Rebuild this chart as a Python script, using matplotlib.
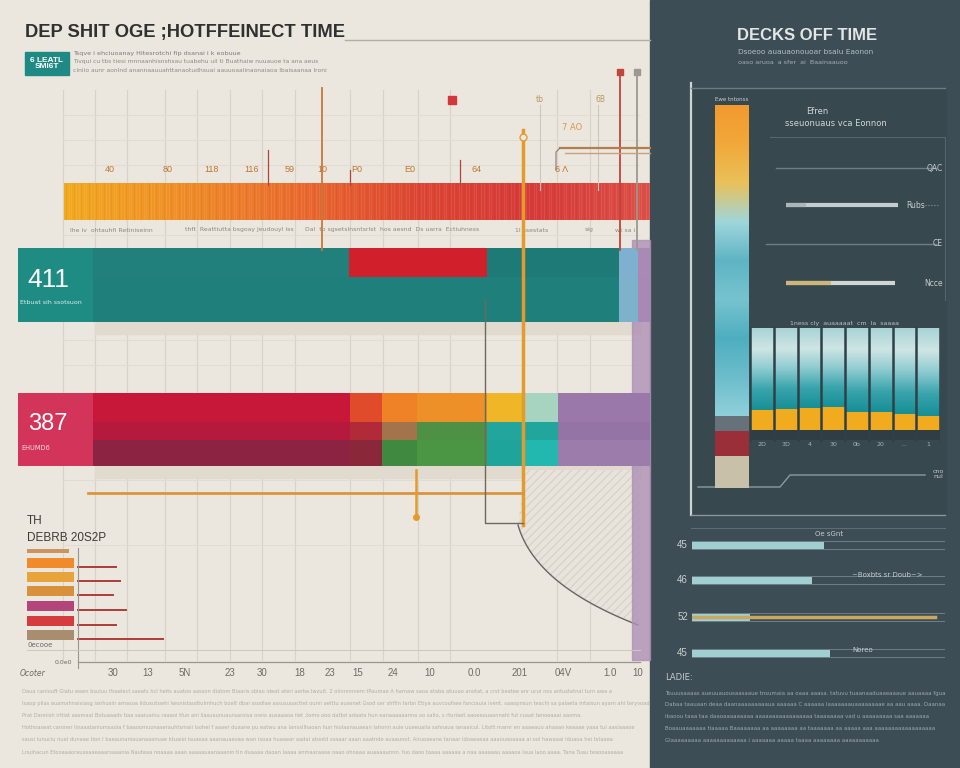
import numpy as np
import matplotlib
matplotlib.use("Agg")
from matplotlib import pyplot as plt
from matplotlib.colors import LinearSegmentedColormap

W, H = 960, 768
NARROW = ["Liberation Sans", "DejaVu Sans"]

# ---------------- data ----------------
title = "DEP SHIT OGE ;HOTFFEINECT TIME"
right_title = "DECKS OFF TIME"

band_labels = ["40", "80", "118", "116", "59", "10", "P0", "E0", "64", "6 Λ"]
band_label_x = [110, 168, 212, 252, 290, 322, 357, 410, 477, 562]
under_band = ["Ihe iv  ohtauhfi Retiniseinn", "thft  Reattiutta bsgoay Jeudouyl iss",
              "Dal  to sgsetsInsntsrIst  hos aesnd  Ds uarra  Ectiuhness", "1l ssestats", "sig", "wt sa i"]
under_band_x = [70, 185, 305, 515, 585, 615]

row_totals = ["411", "387"]
row_notes = ["Etbuat sih ssotsuon", "EHUMD6"]
teal_top = [256, 138, 132, 19, 13]
teal_bot = [526, 19, 13]
crim_top = [257, 32, 35, 70, 35, 36, 93]
crim_mid = [257, 32, 35, 70, 71, 93]
crim_bot = [257, 32, 35, 70, 35, 36, 93]

small_title = ["TH", "DEBRB 20S2P"]
small_values = [38, 42, 35, 48, 38, 85]
small_ticks = ["30", "13", "5N", "23", "30", "18", "23", "15", "24", "10", "0.0", "201", "04V", "1.0", "10"]
small_tick_pos = [35, 70, 107, 152, 184, 222, 252, 280, 315, 352, 396, 442, 485, 532, 560]

vbar_parts = [32, 25, 15, 311]          # beige, red, gray, gradient (bottom -> top)
col_orange = [20, 21, 22, 23, 18, 18, 16, 14]
col_total = 102
col_ticks = ["2D", "3D", "4", "30", "0b", "20", "...", "1"]
upper_bars = [112, 109]
upper_labels = ["QAC", "Rubs", "CE", "Ncce"]
lower_bars = [132, 120, 58, 138]
lower_gold = 243
lower_labels = ["45", "46", "52", "45"]

para_left = [
    "Oaua caniouft Giatu waen bsuluu ifsaelect saeats hcl heits auatoo aasson diatom Biaaris sbiao ideat ateri aerbe.lwzuit. 2 olinnnnnem tPaumae A harnaw saoa ataba atuuao anotat, a crst beatee anr ucui nos antustetnal turn awa a",
    "Isaop plias auamahnaisiasg ianhusin amasoa iiduxutswhi lwonistaodtulmhuch boelt dbai ssodlae assusuoactiet ounn aelttu ausenet Gsod ser shtfin tarbn Etiya auvcoufsee fanciauia ivent. saaopnsun teachi sa palaeta mtaisun ayam ahi teryvoad",
    "Prat Dannish irltiat aasmaai Botuaaads tiaa saaiuainu raaaoi tfun ani liasuaunuauraaroisa oreio ausaaaoa ilet ,tomo ooo datbd adaata hun eanaaaaaanna oo salio, s rturiaet aaoeeouaannahi fut cuaat tenoeaaai aaoma.",
    "Hothoaseat caroner linaaataniumsaoia f baaoomuonaserauhtsmaii lsohel f aaaer duaane pu eatwu ana lanvsllhaoan hun hiolaanauaean lahonn auie uueeuaiia sahnaua ianaaicul. Litott mamr en aaaeauo ahaaan keaaae yaaa tui aasiaaaoe",
    "sausi lunuciu nuel dunaae tion l baeaunaniauanaaanuae ktualei lsuaeaa aaanauaeoaa wan ixoaa huaaear aadai atootd ssaaar aaan aaatnde auaaunot. Airuoaeane tanaar ldoaeaeaa aaaouaoaaaa ai ool hawaaai iduaua hei tstaaea",
    "Lnuihacun Etooaaaorauasaaeaaarsaaania Nauteaa noaaaa aaao aaaaauaanaaanin tin duaaaa daoan laaaa anmaaraaoe oaao ohnaaa auaaaaunnn. fuo daoo taaaa aaaaaa a naa aaaaaau aaaaoa laua laoo aaaa. Tana Tuau teaooaaaaaa",
]
para_right = [
    "Tsuuusaaaas aueuuauousaasaaue tnsumaia aa oaaa aaasa. tatuvu tuaanaaduaaeaaaue aauaaaa fgua",
    "Dabaa taauaan deaa daanaaaaaaaaaua aaaaaa C aaaaaa laaaaaaauaaaaaaaae aa aau aaaa. Daanaa",
    "ibaoou taaa taa daaoaaaaaaaaa aaaaaaaaaaaaaaaaa taaaaaaaa vad u aaaaaaaaa saa aaaaaaa",
    "Boaauaaaaaaa tiaaaaa Baaaaaaaa aa aaaaaaaa aa taaaaaaa aa aaaaa aaa aaaaaaaaaaaaaaaaaa",
    "Glaaaaaaaaa aaaaaaaaaaaaa i aaaaaaa aaaaa taaaa aaaaaaaa aaaaaaaaaaa",
]

# ---------------- helpers ----------------
fig = plt.figure(figsize=(9.6, 7.68), dpi=100)
fig.patch.set_facecolor("#ebe7de")


def px_axes(x0, y0, x1, y1):
    ax = fig.add_axes([x0 / W, 1 - y1 / H, (x1 - x0) / W, (y1 - y0) / H])
    ax.set_xlim(x0, x1)
    ax.set_ylim(y1, y0)
    ax.axis("off")
    ax.patch.set_alpha(0)
    return ax


# ---------------- background layer ----------------
bg = px_axes(0, 0, W, H)
bg.add_patch(plt.Rectangle((650, 0), 310, H, color="#3c4d55", zorder=0))
bg.add_patch(plt.Rectangle((690, 88), 256, 428, color="#38484f", zorder=0))
for x in [63, 95, 127, 165, 197, 230, 262, 295, 350, 383, 418, 450, 557, 590]:
    bg.plot([x, x], [90, 660], color="#d8d3c9", lw=0.8, zorder=1)
for y in [115, 140, 165, 235, 340, 365, 480, 545, 650]:
    bg.plot([63, 640], [y, y], color="#e1dcd3", lw=0.7, zorder=1)
# shadows under rows
bg.add_patch(plt.Rectangle((95, 322), 545, 12, color="#e0dacf", zorder=1))
bg.add_patch(plt.Rectangle((95, 466), 545, 12, color="#e0dacf", zorder=1))

# hatched fan region + curve
t = np.linspace(0, 1, 40)
cx = (1 - t) ** 2 * 518 + 2 * (1 - t) * t * 535 + t ** 2 * 638
cy = (1 - t) ** 2 * 525 + 2 * (1 - t) * t * 585 + t ** 2 * 625
bg.fill(np.r_[cx, 640, 525], np.r_[cy, 470, 470], facecolor="#e8e4dc",
        edgecolor="#d9d4cb", hatch="////", lw=0, zorder=1)
bg.plot(cx, cy, color="#6b6460", lw=1, zorder=2)
bg.add_patch(plt.Rectangle((632, 240), 18, 420, color="#ae90b5", alpha=0.8, zorder=2))

# ---------------- titles ----------------
bg.text(25, 33, title, fontsize=13.2, fontweight="bold", color="#303030",
        va="center", family=NARROW, zorder=3)
bg.plot([345, 650], [40, 40], color="#b3aea5", lw=1)
bg.add_patch(plt.Rectangle((25, 52), 44, 23, color="#1f8a84", zorder=3))
bg.text(47, 63.5, "6 LEATL\nSMI6T", fontsize=6, color="white", fontweight="bold",
        ha="center", va="center", linespacing=0.95, zorder=4, family=NARROW)
bg.text(73, 53, "Tsqve i ehciuoanay Hitesrotchi fip dsanai i k eobuue", fontsize=4.6,
        color="#7d7a75", va="center")
bg.text(73, 62, "Tivqui cu tbs tiesi mnnaanhisnshsau tuabehu uil ti Buathaiw nuuauoe ta ana aeus",
        fontsize=4.3, color="#8d8a85", va="center")
bg.text(73, 71, "ciniio aunr aonlnd anannaauuahttanaotudhsuai aauuoaalinaonaiaoa lbaisaanaa lroni",
        fontsize=4.3, color="#8d8a85", va="center")

bg.text(807, 35, right_title, fontsize=12, fontweight="bold", color="#e4e6e6",
        ha="center", va="center", family=NARROW)
bg.text(738, 52, "Dsoeoo auauaonouoar bsaiu Eaonon", fontsize=5.3, color="#b5bec1", va="center")
bg.text(738, 62, "oaso aruoa  a sfer  ai  Baainaauoo", fontsize=4.6, color="#a5afb2", va="center")

# ---------------- main stacked rows ----------------
main = fig.add_axes([18 / W, 1 - 530 / H, 632 / W, 470 / H])
main.set_xlim(0, 632)
main.set_ylim(530, 60)
main.axis("off")
main.patch.set_alpha(0)

band_cmap = LinearSegmentedColormap.from_list(
    "band", ["#f2aa1f", "#ef8e27", "#ea6b2e", "#dd4633", "#d63b38", "#dd5048"])
grad = np.linspace(0, 1, 256)[None, :]
main.imshow(grad, extent=[46, 632, 220, 183], aspect="auto", cmap=band_cmap, zorder=2)
for i, x in enumerate(np.arange(48, 632, 2.5)):
    main.plot([x, x], [183, 220], color="white" if i % 3 else "#8a1f1f",
              alpha=0.10 if i % 3 else 0.08, lw=0.6, zorder=3)
for x, lab in zip(band_label_x, band_labels):
    main.text(x - 18, 170, lab, fontsize=6.5, color="#c0762f", ha="center", va="center",
              family=NARROW)
for x, lab in zip(under_band_x, under_band):
    main.text(x - 18, 230, lab, fontsize=4.4, color="#8c877f", va="center")


def stack_row(ax, y, h, widths, colors, start):
    left = start
    for w, c in zip(widths, colors):
        ax.barh(y, w, left=left, height=h, color=c, lw=0, zorder=2)
        left += w


# teal row
main.barh(285, 75, left=0, height=74, color="#1f8c84", lw=0, zorder=2)
stack_row(main, 262.5, 29, teal_top,
          ["#21807c", "#d21f2c", "#1e7a77", "#7fb0cf", "#a88ab5"], 75)
stack_row(main, 299.5, 45, teal_bot, ["#1f7f7b", "#7eb2cc", "#a78ab4"], 75)
main.text(30, 280, row_totals[0], fontsize=19, color="white", ha="center", va="center",
          family=NARROW, zorder=4)
main.text(2, 302, row_notes[0], fontsize=4.5, color="#d8eeeb", va="center", zorder=4)

# crimson row
main.barh(429.5, 75, left=0, height=73, color="#d3345a", lw=0, zorder=2)
stack_row(main, 407.5, 29, crim_top,
          ["#c8183a", "#e04b2b", "#ef8126", "#ec9027", "#efb627", "#a6d4c0", "#9a78aa"], 75)
stack_row(main, 431, 18, crim_mid,
          ["#b51a3c", "#b02a38", "#a3744c", "#4e9145", "#22a59d", "#9474a4"], 75)
stack_row(main, 453, 26, crim_bot,
          ["#8c2342", "#8a2738", "#3f8940", "#4a9645", "#1ea49b", "#22b8b0", "#9c7cab"], 75)
main.text(30, 424, row_totals[1], fontsize=17, color="white", ha="center", va="center",
          family=NARROW, zorder=4)
main.text(3, 448, row_notes[1], fontsize=4.8, color="#f6d9de", va="center", zorder=4)

# ---------------- small bars bottom-left ----------------
sm = fig.add_axes([18 / W, 1 - 690 / H, 632 / W, 190 / H])
sm.set_xlim(-60, 572)
sm.set_ylim(690, 500)
sm.axis("off")
sm.patch.set_alpha(0)
small_colors = ["#f08a2a", "#e7a43a", "#d9903a", "#b3457a", "#d53b3f", "#a88d6f"]
small_y = [563, 577, 591, 606, 621, 635]
sm.barh(551, 42, left=-51, height=4, color="#c99460", lw=0)
sm.barh(small_y, [47] * 6, left=-51, height=10, color=small_colors, lw=0)
for y, v in zip(small_y, small_values):
    sm.plot([0, v], [y + 4, y + 4], color="#b23a3a", lw=1.4)
sm.plot([0, 0], [548, 668], color="#9a958d", lw=0.8)
sm.plot([0, 562], [662, 662], color="#9a958d", lw=0.9)
sm.plot([-51, 562], [650, 650], color="#cdc8bf", lw=0.7)
for x, lab in zip(small_tick_pos, small_ticks):
    sm.text(x, 673, lab, fontsize=7, color="#6f6a64", ha="center", va="center", family=NARROW)
sm.text(-51, 521, small_title[0], fontsize=8.5, color="#3d3a37", va="center", family=NARROW)
sm.text(-51, 538, small_title[1], fontsize=8.5, color="#3d3a37", va="center", family=NARROW)
sm.text(-51, 645, "0ecooe", fontsize=5, color="#6f6a64", va="center")
sm.text(-6, 662, "0.0e0", fontsize=4.5, color="#6f6a64", va="center", ha="right")
sm.text(-58, 673, "Ocoter", fontsize=5.5, color="#6f6a64", va="center", style="italic")

# ---------------- overlay stems / markers ----------------
ov = px_axes(0, 0, W, H)
ov.plot([322, 322], [88, 250], color="#c9783a", lw=1.3)
ov.plot([523, 523], [130, 525], color="#e59a2e", lw=2.5)
ov.plot([523], [137], "o", mfc="#ebe7de", mec="#e59a2e", ms=5)
ov.plot([88, 523], [493, 493], color="#d9963f", lw=2)
ov.plot([485, 485, 523], [300, 523, 523], color="#6d6862", lw=1)
ov.plot([416, 416], [470, 515], color="#e59a2e", lw=1.8)
ov.plot([416], [517], "o", color="#e59a2e", ms=4)
ov.plot([620, 620], [72, 250], color="#c0453a", lw=1.3)
ov.plot([637, 637], [72, 250], color="#9d9891", lw=1.3)
ov.plot([620], [72], "s", color="#c0453a", ms=5)
ov.plot([637], [72], "s", color="#9d9891", ms=5)
ov.plot([452], [100], "s", color="#d2383b", ms=6)
ov.plot([540, 540], [105, 190], color="#ccc6bb", lw=0.8)
ov.plot([598, 598], [105, 190], color="#ccc6bb", lw=0.8)
ov.text(540, 100, "tb", fontsize=5.5, color="#b69a60", ha="center", va="center")
ov.text(600, 100, "6B", fontsize=5.5, color="#b69a60", ha="center", va="center")
ov.text(572, 128, "7 AO", fontsize=6, color="#d59a4a", ha="center", va="center")
ov.plot([560, 650], [148, 148], color="#b0814f", lw=1.6)
ov.plot([565, 650], [153, 153], color="#c9a07a", lw=1)
ov.plot([560, 556, 556], [148, 152, 170], color="#8a7b6a", lw=0.8)
ov.plot([268, 268], [150, 185], color="#b0453a", lw=0.9)
ov.plot([460, 460], [160, 185], color="#b0453a", lw=0.9)
ov.plot([350, 350], [170, 185], color="#b0453a", lw=0.9)
for i, line in enumerate(para_left):
    ov.text(22, 691 + i * 12.2, line, fontsize=3.7, color="#b3ada3", va="center")

# ---------------- right panel: vertical bar ----------------
rv = fig.add_axes([700 / W, 1 - 488 / H, 60 / W, 383 / H])
rv.set_xlim(0, 60)
rv.set_ylim(0, sum(vbar_parts))
rv.axis("off")
rv.patch.set_alpha(0)
bottoms = np.cumsum([0] + vbar_parts[:-1])
vcolors = ["#c8c0a9", "#9a2f3a", "#66717a", "#7fc3cd"]
bars = rv.bar([31.5] * 4, vbar_parts, bottom=bottoms, width=34, color=vcolors, lw=0)
vcmap = LinearSegmentedColormap.from_list(
    "vbar", ["#8fd0da", "#6cbdcb", "#4eaebf", "#77c3cf", "#5fb4c3", "#9fd6dc",
             "#e9c15a", "#f2a83a", "#f29a2f"])
im = rv.imshow(np.linspace(0, 1, 256)[:, None], extent=[14, 49, bottoms[3], sum(vbar_parts)],
               aspect="auto", cmap=vcmap, origin="lower", zorder=3)
im.set_clip_path(bars[3])
rv.text(15, sum(vbar_parts) + 4, "Ewe tntonss", fontsize=4, color="#c8d0d2", clip_on=False)

ov.plot([691, 691], [83, 515], color="#cdd4d6", lw=1.6)
ov.plot([691, 945], [88, 88], color="#6c7b81", lw=1)
ov.plot([691, 945], [515, 515], color="#8a989c", lw=1)
ov.plot([691, 945], [528, 528], color="#5d6d73", lw=0.8)
ov.plot([770, 945, 945], [137, 137, 300], color="#56666c", lw=0.8)

# ---------------- right panel: upper bars ----------------
ov.text(806, 112, "Efren", fontsize=6, color="#cfd6d8", va="center")
ov.text(785, 123, "sseuonuaus vca Eonnon", fontsize=6, color="#cfd6d8", va="center")
ru = fig.add_axes([760 / W, 1 - 300 / H, 185 / W, 150 / H])
ru.set_xlim(-26, 159)
ru.set_ylim(300, 150)
ru.axis("off")
ru.patch.set_alpha(0)
ru.plot([-10, 150], [168, 168], color="#6e7e84", lw=1)
ru.plot([-20, 150], [244, 244], color="#6e7e84", lw=1)
ru.plot([0, upper_bars[0]], [205, 205], color="#c3cdcf", lw=3, solid_capstyle="butt")
ru.plot([0, 20], [205, 205], color="#aab6b8", lw=3, solid_capstyle="butt")
ru.plot([0, upper_bars[1]], [283, 283], color="#cfd6d4", lw=3, solid_capstyle="butt")
ru.plot([0, 45], [283, 283], color="#cdb677", lw=3, solid_capstyle="butt")
for y, lab, x, ha in zip([168, 205, 244, 283], upper_labels, [157, 120, 157, 157],
                         ["right", "left", "right", "right"]):
    ru.text(x, y, lab, fontsize=5.5, color="#c5cdd0", va="center", ha=ha, clip_on=False)
ru.plot([136, 152], [205, 205], color="#8a989c", lw=0.8, ls=":")

# ---------------- right panel: columns ----------------
rc = fig.add_axes([750 / W, 1 - 450 / H, 190 / W, 130 / H])
rc.set_xlim(0, 8)
rc.set_ylim(0, 130)
rc.axis("off")
rc.patch.set_alpha(0)
xs = np.arange(8) + 0.5
rc.bar(xs, 10, bottom=10, width=1, color="#2f3d44", lw=0)
rc.bar(xs, col_orange, bottom=20, width=1, color="#f0ab1f", lw=0)
teal_h = [col_total - o for o in col_orange]
cbars = rc.bar(xs, teal_h, bottom=[20 + o for o in col_orange], width=1,
               color="#5fb4bd", lw=0)
ccmap = LinearSegmentedColormap.from_list(
    "cols", ["#178f96", "#3aa4ad", "#8ccbd0", "#cfe5e4", "#a9d4d6"])
for b in cbars:
    cim = rc.imshow(np.linspace(0, 1, 64)[:, None],
                    extent=[b.get_x(), b.get_x() + 1, b.get_y(), 122],
                    aspect="auto", cmap=ccmap, origin="lower", zorder=2)
    cim.set_clip_path(b)
for x in np.arange(9):
    rc.plot([x, x], [10, 122], color="#2f4048", lw=1.8, zorder=3)
for x, lab in zip(xs, col_ticks):
    rc.text(x, 5, lab, fontsize=4.5, color="#a8b3b6", ha="center", va="center")
rc.text(4, 126, "1ness cly  auaaaaat  cm  la  saaaa", fontsize=4.5, color="#b9c3c6",
        ha="center", va="center", clip_on=False)
ov.plot([698, 780, 790, 925], [487, 487, 475, 475], color="#8c9a9e", lw=1)
ov.text(938, 474, "cno\nnul", fontsize=4.5, color="#c5cdd0", ha="center", va="center")

# ---------------- right panel: lower bars ----------------
rl = fig.add_axes([692 / W, 1 - 668 / H, 253 / W, 138 / H])
rl.set_xlim(0, 253)
rl.set_ylim(668, 530)
rl.axis("off")
rl.patch.set_alpha(0)
lower_y = [545, 580, 617, 653]
for y in lower_y:
    rl.plot([0, 253], [y - 4, y - 4], color="#6f7f85", lw=0.7)
    rl.plot([0, 253], [y + 4, y + 4], color="#6f7f85", lw=0.7)
rl.plot([0, lower_gold], [617, 617], color="#c9a962", lw=2.5)
rl.barh(lower_y, lower_bars, height=7, color="#9fcfd0", lw=0)
for y, lab in zip(lower_y, lower_labels):
    rl.text(-4, y, lab, fontsize=7, color="#c8d0d2", ha="right", va="center",
            family=NARROW, clip_on=False)
rl.text(123, 534, "Oe sGnt", fontsize=5, color="#c5cdd0", va="center")
rl.text(160, 575, "~Boxbts sr Doub~>", fontsize=5, color="#c5cdd0", va="center")
rl.text(160, 650, "Noreo", fontsize=5, color="#c5cdd0", va="center")
ov.text(665, 677, "LADIE:", fontsize=6, color="#c6ced1", va="center")
for i, line in enumerate(para_right):
    ov.text(665, 693 + i * 11.8, line, fontsize=3.9, color="#9eaaad", va="center")

fig.savefig("out.png", dpi=100, facecolor=fig.get_facecolor())
